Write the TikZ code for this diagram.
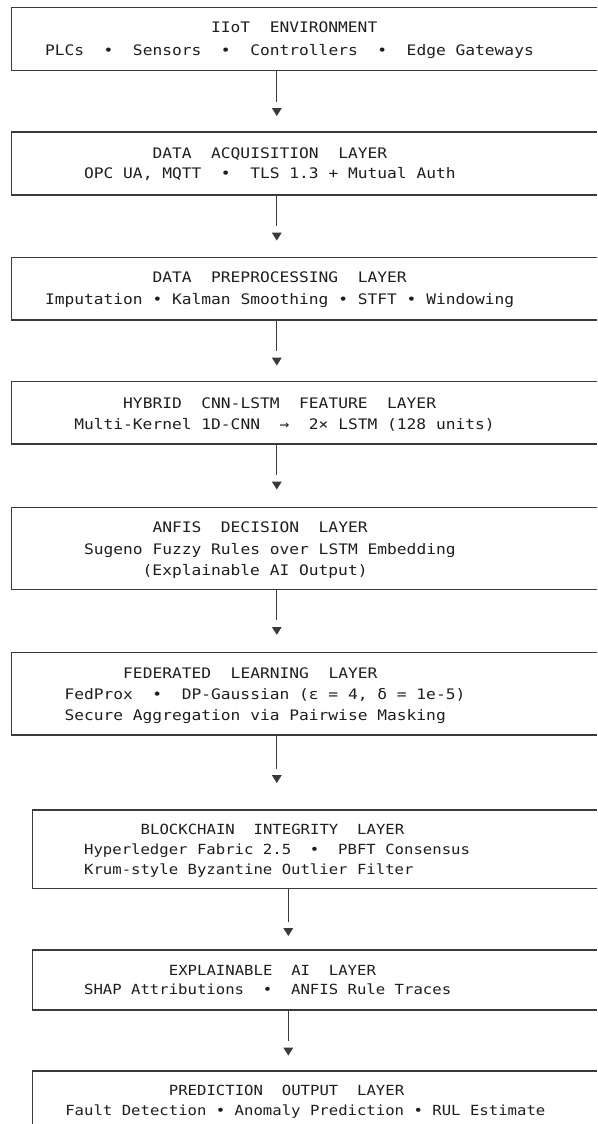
\documentclass[tikz,border=0pt]{standalone}
\usepackage{fontspec}
\newfontfamily\layerfont[FakeStretch=1.12]{DejaVu Sans Mono}
\definecolor{rulegray}{HTML}{3A3A3A}
\definecolor{inkgray}{HTML}{1E1E1E}

\begin{document}
\begin{tikzpicture}[x=1pt,y=-1pt]
            \tikzstyle{every node}+=[inner sep=0pt, outer sep=0pt]
            \tikzstyle{layerbox}=[rectangle, anchor=north west, minimum width=585.3pt]
            \tikzstyle{lowbox}=[rectangle, anchor=north west, minimum width=564.6pt]
            \tikzstyle{layertext}=[anchor=base west, text=inkgray, font=\layerfont\fontsize{14.5}{17}\selectfont]
            \tikzstyle{lowtext}=[anchor=base west, text=inkgray, font=\layerfont\fontsize{13.96}{17}\selectfont]
            \tikzstyle{wire}=[rulegray, line width=1.2pt]
            \useasboundingbox (0,0) rectangle (597,1124);
            \fill [white] (0,0) rectangle (597,1124);
            % layer boxes
            \node [layerbox, minimum height=63.2pt] (env) at (11.7,7.3) {};
            \node [layerbox, minimum height=63pt] (acq) at (11.7,132) {};
            \node [layerbox, minimum height=62.7pt] (pre) at (11.7,257.3) {};
            \node [layerbox, minimum height=62.3pt] (feat) at (11.7,381.7) {};
            \node [layerbox, minimum height=82pt] (anfis) at (11.7,507.3) {};
            \node [layerbox, minimum height=82.3pt] (fed) at (11.7,652.7) {};
            \node [lowbox, minimum height=78.3pt] (chain) at (32.4,810) {};
            \node [lowbox, minimum height=60pt] (xai) at (32.4,950) {};
            \node [lowbox, minimum height=54pt] (pred) at (32.4,1071) {};
            \draw [wire] (env.north east) -- (env.north west) -- (env.south west) -- (env.south east);
            \draw [wire] (acq.north east) -- (acq.north west) -- (acq.south west) -- (acq.south east);
            \draw [wire] (pre.north east) -- (pre.north west) -- (pre.south west) -- (pre.south east);
            \draw [wire] (feat.north east) -- (feat.north west) -- (feat.south west) -- (feat.south east);
            \draw [wire] (anfis.north east) -- (anfis.north west) -- (anfis.south west) -- (anfis.south east);
            \draw [wire] (fed.north east) -- (fed.north west) -- (fed.south west) -- (fed.south east);
            \draw [wire] (chain.north east) -- (chain.north west) -- (chain.south west) -- (chain.south east);
            \draw [wire] (xai.north east) -- (xai.north west) -- (xai.south west) -- (xai.south east);
            \draw [wire] (pred.north east) -- (pred.north west) -- (pred.south west);
            % layer texts
            \node [layertext] (envT) at (211.1,32.3) {IIoT~~ENVIRONMENT};
            \node [layertext] (envA) at (45,55.7) {PLCs~~•~~Sensors~~•~~Controllers~~•~~Edge Gateways};
            \node [layertext] (acqT) at (152.5,158.6) {DATA~~ACQUISITION~~LAYER};
            \node [layertext] (acqA) at (84.1,178.8) {OPC UA, MQTT~~•~~TLS 1.3 + Mutual Auth};
            \node [layertext] (preT) at (152.5,282.5) {DATA~~PREPROCESSING~~LAYER};
            \node [layertext] (preA) at (45,304.2) {Imputation • Kalman Smoothing • STFT • Windowing};
            \node [layertext] (featT) at (123.2,408.1) {HYBRID~~CNN-LSTM~~FEATURE~~LAYER};
            \node [layertext] (featA) at (74.3,429.8) {Multi-Kernel 1D-CNN~~→~~2× LSTM (128 units)};
            \node [layertext] (anfisT) at (152.5,532.5) {ANFIS~~DECISION~~LAYER};
            \node [layertext] (anfisA) at (84.1,554.1) {Sugeno Fuzzy Rules over LSTM Embedding};
            \node [layertext] (anfisB) at (142.7,575.5) {(Explainable AI Output)};
            \node [layertext] (fedT) at (123.2,678.8) {FEDERATED~~LEARNING~~LAYER};
            \node [layertext] (fedA) at (64.5,699.1) {FedProx~~•~~DP-Gaussian (ε = 4, δ = 1e-5)};
            \node [layertext] (fedB) at (64.5,720.5) {Secure Aggregation via Pairwise Masking};
            \node [lowtext] (chainT) at (140.7,834.8) {BLOCKCHAIN~~INTEGRITY~~LAYER};
            \node [lowtext] (chainA) at (84.1,854.1) {Hyperledger Fabric 2.5~~•~~PBFT Consensus};
            \node [lowtext] (chainB) at (84.1,874.1) {Krum-style Byzantine Outlier Filter};
            \node [lowtext] (xaiT) at (168.9,975.5) {EXPLAINABLE~~AI~~LAYER};
            \node [lowtext] (xaiA) at (84.1,994.8) {SHAP Attributions~~•~~ANFIS Rule Traces};
            \node [lowtext] (predT) at (168.9,1095.5) {PREDICTION~~OUTPUT~~LAYER};
            \node [lowtext] (predA) at (65.3,1115.8) {Fault Detection • Anomaly Prediction • RUL Estimate};
            % arrows between layers
            \coordinate (h1) at (276.8,116);
            \coordinate (h2) at (276.8,240.5);
            \coordinate (h3) at (276.8,365.5);
            \coordinate (h4) at (276.8,489.5);
            \coordinate (h5) at (276.8,634.8);
            \coordinate (h6) at (276.8,783);
            \coordinate (h7) at (288.3,936);
            \coordinate (h8) at (288.3,1055.5);
            \draw [wire] (env.south -| h1) -- ([yshift=14.5pt]h1);
            \fill [rulegray] (h1) -- ++(-4.9,-7.8) -- ++(9.8,0) -- cycle;
            \draw [wire] (acq.south -| h2) -- ([yshift=14.5pt]h2);
            \fill [rulegray] (h2) -- ++(-4.9,-7.8) -- ++(9.8,0) -- cycle;
            \draw [wire] (pre.south -| h3) -- ([yshift=14.5pt]h3);
            \fill [rulegray] (h3) -- ++(-4.9,-7.8) -- ++(9.8,0) -- cycle;
            \draw [wire] (feat.south -| h4) -- ([yshift=14.5pt]h4);
            \fill [rulegray] (h4) -- ++(-4.9,-7.8) -- ++(9.8,0) -- cycle;
            \draw [wire] (anfis.south -| h5) -- ([yshift=14.5pt]h5);
            \fill [rulegray] (h5) -- ++(-4.9,-7.8) -- ++(9.8,0) -- cycle;
            \draw [wire] (fed.south -| h6) -- ([yshift=14.5pt]h6);
            \fill [rulegray] (h6) -- ++(-4.9,-7.8) -- ++(9.8,0) -- cycle;
            \draw [wire] (chain.south -| h7) -- ([yshift=14.5pt]h7);
            \fill [rulegray] (h7) -- ++(-4.9,-7.8) -- ++(9.8,0) -- cycle;
            \draw [wire] (xai.south -| h8) -- ([yshift=14.5pt]h8);
            \fill [rulegray] (h8) -- ++(-4.9,-7.8) -- ++(9.8,0) -- cycle;
\end{tikzpicture}
\end{document}
